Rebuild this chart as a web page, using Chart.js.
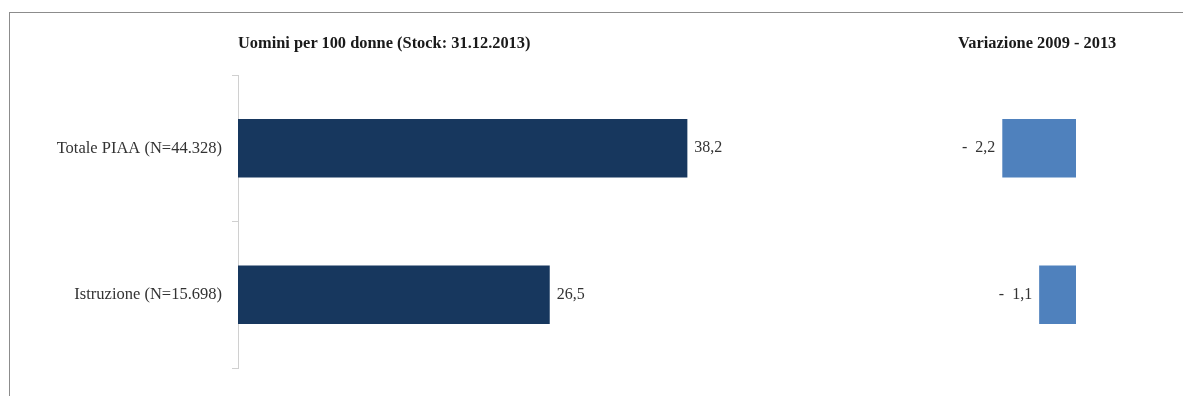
<!DOCTYPE html>
<html>
<head>
<meta charset="utf-8">
<script src="https://cdn.jsdelivr.net/npm/chart.js@4.4.1/dist/chart.umd.min.js"></script>
<style>
  body { margin: 0; background: #fff; }
  #wrap { position: relative; width: 1183px; height: 396px; overflow: hidden; }
  #frame {
    position: absolute; left: 9px; top: 12px; width: 1200px; height: 400px;
    border-top: 1px solid #8c8c8c; border-left: 1px solid #8c8c8c;
  }
  canvas { position: absolute; left: 0; top: 0; }
  .title {
    position: absolute; top: 32px; line-height: 22px;
    font-family: "Liberation Serif", serif; font-weight: bold; font-size: 16.4px;
    color: #1a1a1a; white-space: nowrap;
  }
</style>
</head>
<body>
<div id="wrap">
  <div id="frame"></div>
  <canvas id="leftChart" width="1183" height="396"></canvas>
  <canvas id="rightChart" width="1183" height="396"></canvas>
  <div class="title" style="left:238px">Uomini per 100 donne (Stock: 31.12.2013)</div>
  <div class="title" style="left:958px">Variazione 2009 - 2013</div>
</div>
<script>
const categories = ["Totale PIAA (N=44.328)", "Istruzione (N=15.698)"];
const uominiPer100 = [38.2, 26.5];
const variazione = [-2.2, -1.1];

const serif = "'Liberation Serif', serif";

function fmt(v) {
  const s = Math.abs(v).toFixed(1).replace(".", ",");
  return v < 0 ? "-\u2002" + s : s;
}

// draws the value next to each bar end
const barLabels = {
  id: "barLabels",
  afterDatasetsDraw(chart) {
    const ctx = chart.ctx;
    ctx.save();
    ctx.font = "16px " + serif;
    ctx.fillStyle = "#333333";
    ctx.textBaseline = "middle";
    chart.data.datasets.forEach((ds, i) => {
      chart.getDatasetMeta(i).data.forEach((bar, j) => {
        const v = ds.data[j];
        if (v < 0) {
          ctx.textAlign = "right";
          ctx.fillText(fmt(v), bar.x - 7, bar.y);
        } else {
          ctx.textAlign = "left";
          ctx.fillText(fmt(v), bar.x + 7, bar.y);
        }
      });
    });
    ctx.restore();
  }
};

new Chart(document.getElementById("leftChart").getContext("2d"), {
  type: "bar",
  data: {
    labels: categories,
    datasets: [{
      data: uominiPer100,
      backgroundColor: "#17375e",
      categoryPercentage: 1,
      barPercentage: 0.4
    }]
  },
  options: {
    indexAxis: "y",
    responsive: false,
    animation: false,
    layout: { padding: { top: 75, bottom: 28, right: 298, left: 0 } },
    plugins: { legend: { display: false }, tooltip: { enabled: false } },
    scales: {
      x: { display: false, min: 0, max: 55 },
      y: {
        afterFit(scale) { scale.width = 238; },
        grid: {
          drawOnChartArea: false,
          drawTicks: true,
          tickLength: 6,
          color: "#d0d0d0"
        },
        border: { color: "#d0d0d0" },
        ticks: {
          padding: 10,
          color: "#333333",
          font: { family: serif, size: 16.5 }
        }
      }
    }
  },
  plugins: [barLabels]
});

new Chart(document.getElementById("rightChart").getContext("2d"), {
  type: "bar",
  data: {
    labels: categories,
    datasets: [{
      data: variazione,
      backgroundColor: "#4f81bd",
      categoryPercentage: 1,
      barPercentage: 0.4
    }]
  },
  options: {
    indexAxis: "y",
    responsive: false,
    animation: false,
    layout: { padding: { top: 75, bottom: 28, right: 107, left: 942 } },
    plugins: { legend: { display: false }, tooltip: { enabled: false } },
    scales: {
      x: { display: false, min: -4, max: 0 },
      y: { display: false }
    }
  },
  plugins: [barLabels]
});
</script>
</body>
</html>
